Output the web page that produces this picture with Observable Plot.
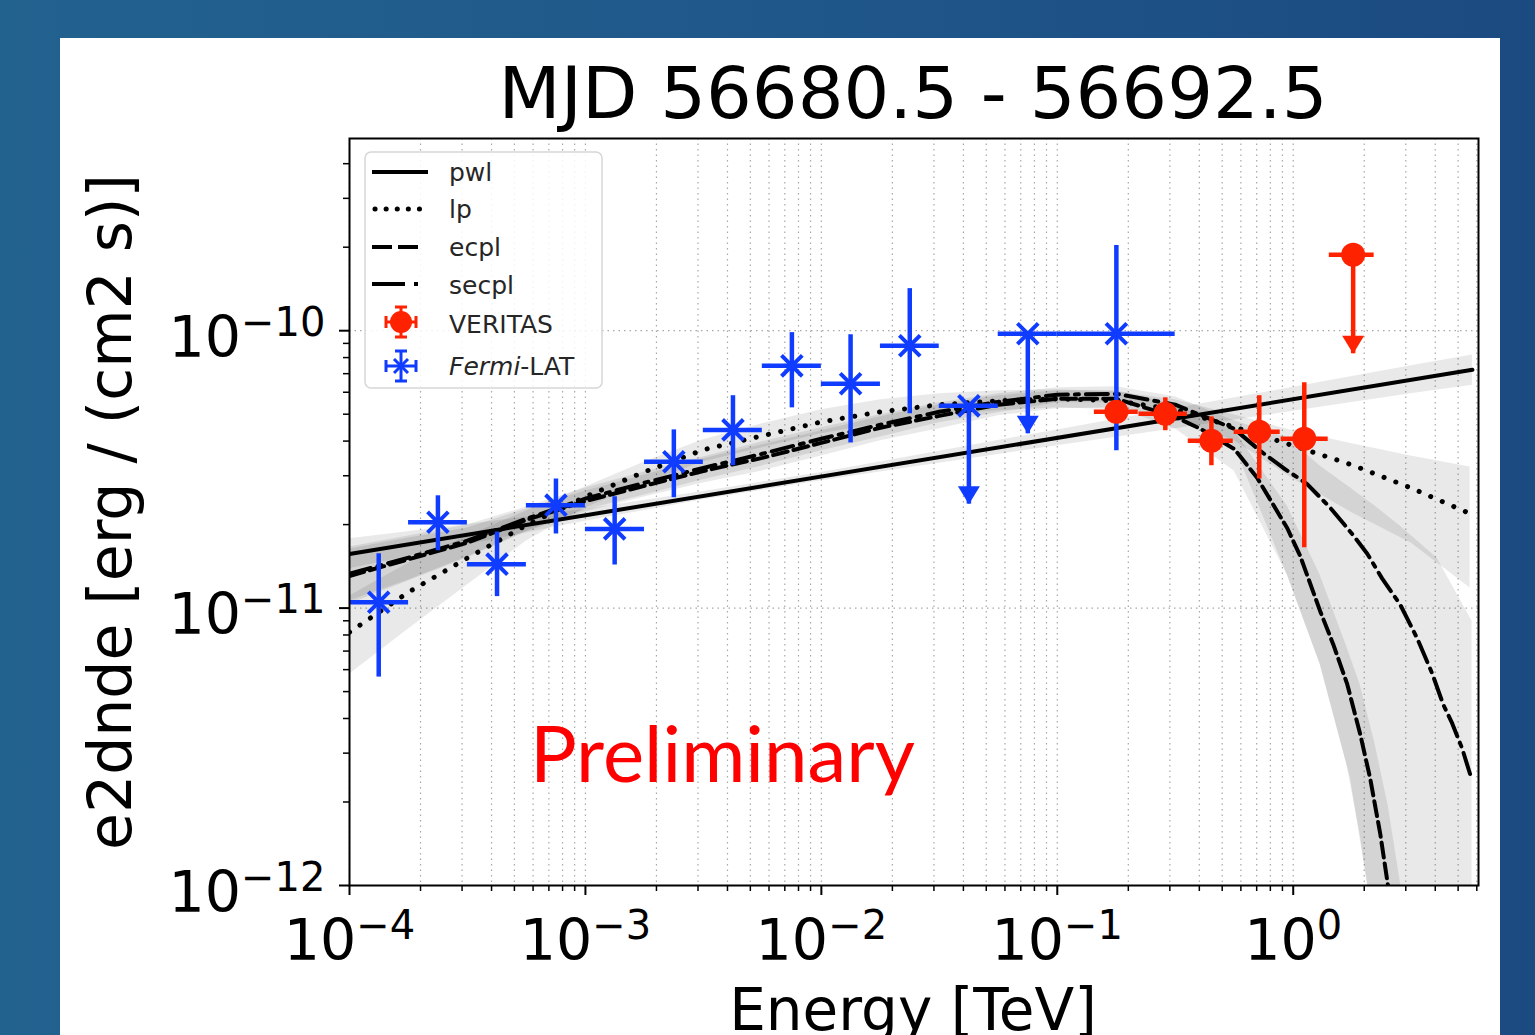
<!DOCTYPE html>
<html>
<head>
<meta charset="utf-8">
<script src="https://cdn.jsdelivr.net/npm/d3@7"></script>
<script src="https://cdn.jsdelivr.net/npm/@observablehq/plot@0.6"></script>
<style>
  html, body { margin:0; padding:0; }
  body { width:1535px; height:1035px; overflow:hidden; position:relative;
         background: linear-gradient(90deg, #22628f 0%, #1f5689 55%, #1b4a80 100%); }
  #panel { position:absolute; left:60px; top:38px; width:1440px; height:1000px; background:#fff; }
  #chart, #overlay { position:absolute; left:0; top:0; }
  #overlay { pointer-events:none; }
</style>
</head>
<body>
<div id="panel"></div>
<div id="chart"></div>
<svg id="overlay" width="1535" height="1035" xmlns="http://www.w3.org/2000/svg" font-family="DejaVu Sans">
  <text x="913" y="118" text-anchor="middle" font-size="72" fill="#000">MJD 56680.5 - 56692.5</text>
  <text x="913" y="1030" text-anchor="middle" font-size="58" fill="#000">Energy [TeV]</text>
  <text transform="translate(131,512) rotate(-90)" text-anchor="middle" font-size="60" fill="#000">e2dnde [erg / (cm2 s)]</text>
  <text x="530" y="782" font-family="Lato" font-size="78" fill="#ff0000">Preliminary</text>
  <g id="legend">
    <rect x="365" y="152" width="237" height="236" rx="6" fill="#fff" fill-opacity="0.85" stroke="#d6d6d6" stroke-width="1.5"/>
    <line x1="372" x2="428" y1="172" y2="172" stroke="#000" stroke-width="4"/>
    <line x1="375" x2="420" y1="209" y2="209" stroke="#000" stroke-width="5" stroke-linecap="round" stroke-dasharray="0.1,11"/>
    <line x1="372" x2="420" y1="247" y2="247" stroke="#000" stroke-width="4" stroke-dasharray="20,6"/>
    <line x1="372" x2="420" y1="284" y2="284" stroke="#000" stroke-width="4" stroke-dasharray="33,9,4,30"/>
    <g stroke="#ff2200" stroke-width="3">
      <line x1="386" x2="416" y1="322" y2="322"/>
      <line x1="401" x2="401" y1="307" y2="337"/>
      <line x1="386" x2="386" y1="316" y2="328"/>
      <line x1="416" x2="416" y1="316" y2="328"/>
      <line x1="395" x2="407" y1="307" y2="307"/>
      <line x1="395" x2="407" y1="337" y2="337"/>
    </g>
    <circle cx="401" cy="322" r="11" fill="#ff2200"/>
    <g stroke="#0f3cff" stroke-width="3">
      <line x1="386" x2="416" y1="366" y2="366"/>
      <line x1="401" x2="401" y1="351" y2="381"/>
      <line x1="386" x2="386" y1="360" y2="372"/>
      <line x1="416" x2="416" y1="360" y2="372"/>
      <line x1="395" x2="407" y1="351" y2="351"/>
      <line x1="395" x2="407" y1="381" y2="381"/>
      <line x1="394" x2="408" y1="359" y2="373"/>
      <line x1="394" x2="408" y1="373" y2="359"/>
    </g>
    <g font-size="25" fill="#262626">
      <text x="449" y="181">pwl</text>
      <text x="449" y="218">lp</text>
      <text x="449" y="256">ecpl</text>
      <text x="449" y="294">secpl</text>
      <text x="449" y="333">VERITAS</text>
      <text x="449" y="375"><tspan font-style="italic">Fermi</tspan>-LAT</text>
    </g>
  </g>
</svg>
<script>
// ---------------- data ----------------
// axis ticks
const majorX = [1e-4, 1e-3, 1e-2, 1e-1, 1];
const majorXLabels = ["10^-4", "10^-3", "10^-2", "10^-1", "10^0"];
const minorX = [2e-4,3e-4,4e-4,5e-4,6e-4,7e-4,8e-4,9e-4,
                2e-3,3e-3,4e-3,5e-3,6e-3,7e-3,8e-3,9e-3,
                2e-2,3e-2,4e-2,5e-2,6e-2,7e-2,8e-2,9e-2,
                0.2,0.3,0.4,0.5,0.6,0.7,0.8,0.9,
                2,3,4,5,6];
const majorY = [1e-12, 1e-11, 1e-10];
const majorYLabels = ["10^-12", "10^-11", "10^-10"];
const minorY = [2e-12,3e-12,4e-12,5e-12,6e-12,7e-12,8e-12,9e-12,
                2e-11,3e-11,4e-11,5e-11,6e-11,7e-11,8e-11,9e-11,
                2e-10,3e-10,4e-10];

// power law (pwl)
const pwlE = [1e-4, 5.75];
const pwlF = [1.567e-11, 7.23e-11];
const pwlBandE  = [1e-4, 3.16e-4, 1e-3, 3.16e-3, 1e-2, 3.16e-2, 0.1, 0.316, 1, 3.16, 5.75];
const pwlBandLo = [1.386e-11, 1.693e-11, 2.055e-11, 2.456e-11, 2.88e-11, 3.33e-11, 3.845e-11, 4.43e-11, 5.12e-11, 5.92e-11, 6.36e-11];
const pwlBandHi = [1.78e-11, 2.00e-11, 2.27e-11, 2.63e-11, 3.08e-11, 3.68e-11, 4.39e-11, 5.24e-11, 6.25e-11, 7.47e-11, 8.17e-11];

// log parabola (lp)
const lpE  = [1e-4, 1.78e-4, 3.16e-4, 5.62e-4, 1e-3, 1.78e-3, 3.16e-3, 5.62e-3, 1e-2, 1.78e-2,
              3.16e-2, 5.62e-2, 0.1, 0.178, 0.316, 0.562, 1, 1.78, 3.16, 5.62];
const lpF  = [0.819e-11, 1.142e-11, 1.515e-11, 1.99e-11, 2.52e-11, 3.10e-11, 3.72e-11, 4.18e-11, 4.69e-11, 5.10e-11,
              5.41e-11, 5.59e-11, 5.68e-11, 5.59e-11, 5.19e-11, 4.50e-11, 3.85e-11, 3.28e-11, 2.71e-11, 2.19e-11];
const lpLo = [0.578e-11, 0.840e-11, 1.211e-11, 1.745e-11, 2.296e-11, 2.827e-11, 3.366e-11, 3.781e-11, 4.248e-11, 4.617e-11,
              4.934e-11, 5.143e-11, 5.272e-11, 5.186e-11, 4.771e-11, 4.008e-11, 2.922e-11, 2.203e-11, 1.717e-11, 1.181e-11];
const lpHi = [1.105e-11, 1.454e-11, 1.819e-11, 2.239e-11, 2.734e-11, 3.366e-11, 4.041e-11, 4.617e-11, 5.186e-11, 5.635e-11,
              5.924e-11, 6.074e-11, 6.124e-11, 6.024e-11, 5.635e-11, 4.976e-11, 4.355e-11, 3.909e-11, 3.537e-11, 3.228e-11];

// exponential cutoff power law (ecpl)
const ecplE = [1e-4, 1.78e-4, 3.16e-4, 5.62e-4, 1e-3, 1.78e-3, 3.16e-3, 5.62e-3, 1e-2, 1.78e-2, 3.16e-2, 5.62e-2,
               0.1, 0.178, 0.316, 0.404, 0.562, 0.703, 0.944, 1.071, 1.301, 1.477, 1.694, 1.923, 2.12, 2.34, 2.53, 2.73];
const ecplF = [1.305e-11, 1.50e-11, 1.72e-11, 2.08e-11, 2.43e-11, 2.76e-11, 3.12e-11, 3.48e-11, 3.94e-11, 4.47e-11, 4.93e-11, 5.41e-11,
               5.68e-11, 5.68e-11, 4.89e-11, 4.43e-11, 3.75e-11, 2.95e-11, 1.94e-11, 1.54e-11, 0.975e-11, 0.741e-11, 0.532e-11,
               0.351e-11, 0.243e-11, 0.153e-11, 0.098e-11, 0.063e-11];
const ecplBandE  = [1e-4, 1.78e-4, 3.16e-4, 5.62e-4, 1e-3, 1.78e-3, 3.16e-3, 5.62e-3, 1e-2, 1.78e-2, 3.16e-2, 5.62e-2,
                    0.1, 0.178, 0.316, 0.562, 0.944, 1.30, 1.69, 1.92, 2.22, 2.53, 2.87, 3.13];
const ecplBandHi = [1.633e-11, 1.789e-11, 1.944e-11, 2.277e-11, 2.645e-11, 3.020e-11, 3.451e-11, 3.877e-11, 4.355e-11, 4.893e-11,
                    5.406e-11, 5.826e-11, 6.074e-11, 6.074e-11, 5.406e-11, 4.355e-11, 2.334e-11, 1.316e-11, 0.723e-11, 0.532e-11,
                    0.326e-11, 0.193e-11, 0.098e-11, 0.063e-11];
const ecplBandLo = [1.034e-11, 1.252e-11, 1.515e-11, 1.881e-11, 2.222e-11, 2.516e-11, 2.827e-11, 3.123e-11, 3.537e-11, 4.008e-11,
                    4.429e-11, 4.934e-11, 5.229e-11, 5.272e-11, 4.429e-11, 3.123e-11, 1.316e-11, 0.628e-11, 0.271e-11, 0.153e-11,
                    0.068e-11, 0.041e-11, 0.025e-11, 0.017e-11];

// super-exponential cutoff power law (secpl)
const secplE = [1e-4, 1.78e-4, 3.16e-4, 5.62e-4, 1e-3, 1.78e-3, 3.16e-3, 5.62e-3, 1e-2, 1.78e-2, 3.16e-2, 5.62e-2,
                0.1, 0.178, 0.316, 0.562, 0.724, 0.908, 1.146, 1.435, 1.778, 2.06, 2.38, 2.84, 3.35, 3.88, 4.32, 4.72, 5.20, 5.62];
const secplF = [1.33e-11, 1.52e-11, 1.75e-11, 2.10e-11, 2.48e-11, 2.83e-11, 3.20e-11, 3.60e-11, 4.08e-11, 4.58e-11, 5.10e-11, 5.54e-11,
                5.88e-11, 5.92e-11, 5.41e-11, 4.43e-11, 3.69e-11, 3.20e-11, 2.80e-11, 2.30e-11, 1.85e-11, 1.57e-11, 1.28e-11,
                1.03e-11, 0.779e-11, 0.582e-11, 0.450e-11, 0.384e-11, 0.312e-11, 0.252e-11];
const secplBandE  = [1e-4, 1.78e-4, 3.16e-4, 5.62e-4, 1e-3, 1.78e-3, 3.16e-3, 5.62e-3, 1e-2, 1.78e-2, 3.16e-2, 5.62e-2,
                     0.1, 0.178, 0.316, 0.562, 0.944, 1.30, 1.75, 2.22, 2.84, 4.07, 5.73];
const secplBandHi = [1.661e-11, 1.819e-11, 1.994e-11, 2.315e-11, 2.712e-11, 3.097e-11, 3.508e-11, 3.975e-11, 4.466e-11, 4.976e-11,
                     5.496e-11, 5.924e-11, 6.227e-11, 6.279e-11, 5.776e-11, 4.733e-11, 4.109e-11, 3.255e-11, 2.712e-11, 2.334e-11,
                     1.977e-11, 1.515e-11, 0.898e-11];
const secplBandLo = [1.060e-11, 1.262e-11, 1.528e-11, 1.897e-11, 2.259e-11, 2.558e-11, 2.899e-11, 3.255e-11, 3.688e-11, 4.142e-11,
                     4.656e-11, 5.058e-11, 5.496e-11, 5.496e-11, 5.017e-11, 3.845e-11, 1.316e-11, 0.628e-11, 0.243e-11, 0.068e-11,
                     0.025e-11, 0.011e-11, 0.010e-11];

// Fermi-LAT flux points
const fermiE   = [1.33e-4, 2.37e-4, 4.22e-4, 7.50e-4, 1.33e-3, 2.37e-3, 4.22e-3, 7.50e-3, 1.33e-2, 2.37e-2, 4.22e-2, 7.50e-2, 0.178];
const fermiElo = [1e-4, 1.78e-4, 3.16e-4, 5.62e-4, 1e-3, 1.78e-3, 3.16e-3, 5.62e-3, 1e-2, 1.78e-2, 3.16e-2, 5.62e-2, 0.1];
const fermiEhi = [1.78e-4, 3.16e-4, 5.62e-4, 1e-3, 1.78e-3, 3.16e-3, 5.62e-3, 1e-2, 1.78e-2, 3.16e-2, 5.62e-2, 0.1, 0.316];
const fermiF   = [1.05e-11, 2.04e-11, 1.44e-11, 2.35e-11, 1.93e-11, 3.37e-11, 4.39e-11, 7.47e-11, 6.44e-11, 8.83e-11, 5.36e-11, 9.75e-11, 9.75e-11];
const fermiFlo = [0.564e-11, 1.61e-11, 1.10e-11, 1.85e-11, 1.43e-11, 2.50e-11, 3.26e-11, 5.27e-11, 3.94e-11, 5.02e-11, 2.37e-11, 4.25e-11, 3.69e-11];
const fermiFhi = [1.57e-11, 2.54e-11, 1.88e-11, 2.92e-11, 2.52e-11, 4.39e-11, 5.83e-11, 9.84e-11, 9.67e-11, 14.18e-11, 5.36e-11, 9.75e-11, 20.3e-11];
const fermiUL  = [false, false, false, false, false, false, false, false, false, false, true, true, false];

// VERITAS flux points
const verE   = [0.178, 0.287, 0.450, 0.718, 1.114, 1.795];
const verElo = [0.1436, 0.222, 0.359, 0.562, 0.889, 1.422];
const verEhi = [0.2203, 0.356, 0.557, 0.881, 1.407, 2.203];
const verF   = [5.10e-11, 5.02e-11, 4.01e-11, 4.32e-11, 4.08e-11, 18.8e-11];
const verFlo = [4.77e-11, 4.36e-11, 3.26e-11, 2.92e-11, 1.65e-11, 8.26e-11];
const verFhi = [5.45e-11, 5.73e-11, 4.89e-11, 5.83e-11, 6.49e-11, 18.8e-11];
const verUL  = [false, false, false, false, false, true];

// ---------------- build tables ----------------
const line = (E, F) => E.map((e, i) => ({e, f: F[i]}));
const band = (E, lo, hi) => E.map((e, i) => ({e, lo: lo[i], hi: hi[i]}));
const pts = (E, El, Eh, F, Fl, Fh, UL) => E.map((e, i) => ({e, elo: El[i], ehi: Eh[i], f: F[i], lo: Fl[i], hi: Fh[i], ul: UL[i]}));

const fermi = pts(fermiE, fermiElo, fermiEhi, fermiF, fermiFlo, fermiFhi, fermiUL);
const veritas = pts(verE, verElo, verEhi, verF, verFlo, verFhi, verUL);

const BLUE = "#0f3cff", RED = "#ff2200";
const downHead = { draw(ctx) { ctx.moveTo(-11, -18); ctx.lineTo(11, -18); ctx.lineTo(0, 0); ctx.closePath(); } };

const xLab = new Map(majorX.map((v, i) => [v, majorXLabels[i]]));
const yLab = new Map(majorY.map((v, i) => [v, majorYLabels[i]]));

const bandStyle = {x: "e", y1: "lo", y2: "hi", fill: "#000", fillOpacity: 0.085, clip: true};
const lineStyle = {x: "e", y: "f", stroke: "#000", strokeWidth: 4, clip: true};

const chart = Plot.plot({
  width: 1535, height: 1035,
  marginLeft: 349, marginRight: 57, marginTop: 138, marginBottom: 150,
  x: {type: "log", domain: [1e-4, 6.1], label: null},
  y: {type: "log", domain: [1e-12, 4.93e-10], label: null},
  style: {background: "transparent", fontFamily: "DejaVu Sans", fontSize: "57px", color: "#000", overflow: "visible"},
  marks: [
    Plot.gridX({ticks: minorX.concat(majorX), stroke: "#a8a8a8", strokeOpacity: 1, strokeWidth: 1.2, strokeDasharray: "1.5,4"}),
    Plot.gridY({ticks: majorY, stroke: "#a8a8a8", strokeOpacity: 1, strokeWidth: 1.2, strokeDasharray: "1.5,4"}),
    Plot.areaY(band(pwlBandE, pwlBandLo, pwlBandHi), bandStyle),
    Plot.areaY(band(lpE, lpLo, lpHi), bandStyle),
    Plot.areaY(band(ecplBandE, ecplBandLo, ecplBandHi), bandStyle),
    Plot.areaY(band(secplBandE, secplBandLo, secplBandHi), bandStyle),
    Plot.line(line(pwlE, pwlF), lineStyle),
    Plot.line(line(lpE, lpF), {...lineStyle, strokeWidth: 5, strokeLinecap: "round", strokeDasharray: "0.1,12.5"}),
    Plot.line(line(ecplE, ecplF), {...lineStyle, strokeDasharray: "15,6"}),
    Plot.line(line(secplE, secplF), {...lineStyle, strokeDasharray: "22,7,4,7"}),
    // Fermi-LAT
    Plot.ruleY(fermi, {y: "f", x1: "elo", x2: "ehi", stroke: BLUE, strokeWidth: 4.5, clip: true}),
    Plot.ruleX(fermi, {x: "e", y1: "lo", y2: "hi", stroke: BLUE, strokeWidth: 4.5, clip: true}),
    Plot.dot(fermi.filter(d => d.ul), {x: "e", y: "lo", symbol: downHead, r: 5, fill: BLUE, stroke: "none"}),
    Plot.dot(fermi, {x: "e", y: "f", symbol: "times", r: 9.5, stroke: BLUE, strokeWidth: 4}),
    // VERITAS
    Plot.ruleY(veritas, {y: "f", x1: "elo", x2: "ehi", stroke: RED, strokeWidth: 4.5, clip: true}),
    Plot.ruleX(veritas, {x: "e", y1: "lo", y2: "hi", stroke: RED, strokeWidth: 4.5, clip: true}),
    Plot.dot(veritas.filter(d => d.ul), {x: "e", y: "lo", symbol: downHead, r: 5, fill: RED, stroke: "none"}),
    Plot.dot(veritas, {x: "e", y: "f", r: 12, fill: RED, stroke: "none"}),
    // axes
    Plot.axisX({ticks: minorX, tickSize: 6, strokeWidth: 1.5, tickFormat: () => "", label: null}),
    Plot.axisX({ticks: majorX, tickSize: 10, strokeWidth: 2, tickPadding: 24, fontSize: 57, tickFormat: d => xLab.get(d), label: null}),
    Plot.axisY({ticks: minorY, tickSize: 6, strokeWidth: 1.5, tickFormat: () => "", label: null}),
    Plot.axisY({ticks: majorY, tickSize: 10, strokeWidth: 2, tickPadding: 14, fontSize: 57, tickFormat: d => yLab.get(d), label: null}),
    Plot.frame({stroke: "#000", strokeWidth: 2})
  ]
});

// render "10^n" tick labels with a real superscript
const NS = "http://www.w3.org/2000/svg";
chart.querySelectorAll("text").forEach(t => {
  const m = /^10\^(-?\d+)$/.exec(t.textContent);
  if (!m) return;
  const g = t.closest("[aria-label]");
  const isY = (g && /y-axis/.test(g.getAttribute("aria-label"))) || t.closest('[text-anchor="end"]') !== null;
  t.textContent = "";
  const base = document.createElementNS(NS, "tspan");
  base.textContent = "10";
  if (isY) base.setAttribute("dy", "8");
  const sup = document.createElementNS(NS, "tspan");
  sup.textContent = m[1].replace("-", "\u2212");
  sup.setAttribute("dy", "-21");
  sup.setAttribute("font-size", "40");
  t.append(base, sup);
});

document.getElementById("chart").appendChild(chart);
</script>
</body>
</html>
